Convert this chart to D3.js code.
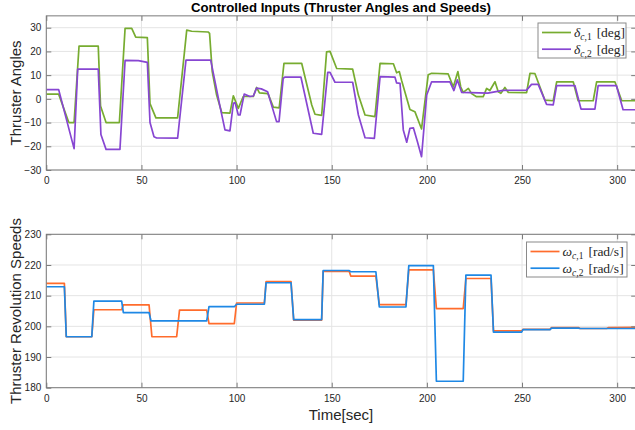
<!DOCTYPE html>
<html>
<head>
<meta charset="utf-8">
<script src="https://cdn.jsdelivr.net/npm/d3@7"></script>
<style>
  body { margin: 0; background: #fff; }
  svg { display: block; }
  text { font-family: "Liberation Sans", Arial, sans-serif; }
</style>
</head>
<body>
<div id="chart"></div>
<script>
// time [s], value
const delta1 = [[0,2],[6.5,2],[11.6,-9.5],[12,-10],[14.6,-10],[17.2,22.2],[27.3,22.2],[28.5,-3],[31.4,-10],[38.4,-10],
  [41.4,29.7],[44.9,29.7],[47,26],[53.1,25.8],[54.5,-2],[57.6,-8],[69,-8],[73.8,29],[76.4,28.5],[85,28.2],[85.8,27.6],
  [87.2,11.5],[89.5,1.6],[92.2,-5.8],[96.5,-6],[98.3,1.3],[100.9,-4],[103.5,1],[108.8,1],[110.5,4.8],[112,2.5],[116.5,2.2],
  [119.3,-3.5],[122.4,-3.8],[124.9,15],[134.2,15],[139.5,-2.6],[141.2,-6.5],[144.7,-7],[147.3,19.8],[149.1,20],[152.6,12.8],
  [161,12.5],[164,1.6],[167.5,-6.8],[172.7,-7.5],[175.4,15],[182.4,14.8],[184.1,11],[185.5,11.5],[186.8,7.5],[191.1,-4.5],
  [193.7,-5.4],[197.2,-12.7],[200.7,10.2],[202.5,10.8],[211.2,10.5],[213.9,5],[216.3,11.5],[217.8,5],[219.1,2.7],[221.8,4.4],
  [223.5,2.2],[226.1,0.9],[229.6,0.9],[231.4,4.4],[233.1,3.5],[235.8,7.2],[237.5,3],[238.9,2.3],[241,4.8],[242.8,2.7],
  [252.4,2.6],[254.2,10.8],[256.8,10.6],[262,-0.5],[266.4,-0.8],[268.2,7.2],[276.9,7.2],[279.5,-0.8],[287.4,-0.8],
  [289.2,7.2],[298.8,7.2],[302.4,-0.8],[310,-0.8]];
const delta2 = [[0,3.9],[6.5,3.9],[14.6,-21],[16.5,12.5],[27.3,12.5],[28.7,-15],[31.4,-21.3],[38.7,-21.3],[41.4,16.2],
  [48.4,16.1],[53.1,15.4],[54.5,-10],[56.6,-16],[58,-16.5],[69,-16.6],[73.4,16.3],[86.4,16.3],[86.9,14.3],[91.3,-3.3],
  [93.9,-13.1],[96.5,-13.5],[98.3,-1.9],[99.2,-1.6],[100.9,-6.8],[101.8,-6.8],[104,2],[107,1],[108.8,1.2],[110.5,4.5],
  [113,4.2],[116.3,3],[121,-9.6],[122.3,-9.6],[124.5,8.7],[125.5,9.2],[133.8,9.2],[140.3,-14.5],[144.7,-15],[147.9,11.2],
  [149.1,11.2],[151.7,7],[161,7],[164,-6.8],[167.5,-16.4],[172.4,-16.7],[175.4,9.4],[183.2,9.2],[184.1,6.7],[185.9,6.5],
  [187.6,-13.1],[189.4,-18.3],[191.1,-12.4],[192.9,-12.2],[195,-18],[197.2,-24.4],[199.9,1.6],[202.5,7.2],[212.1,7.2],
  [214.2,3.5],[216,8],[218.3,2.7],[232,2.4],[240,3.6],[252.4,3.7],[255,6.1],[258.5,6.1],[262.9,-2.3],[266.4,-2.5],
  [268.2,5.6],[277.8,5.6],[281,-4.3],[288.3,-4.3],[290,5.6],[299.6,5.6],[303.1,-4.6],[310,-4.6]];
const omega1 = [[0,214],[9.5,214],[10.5,196.6],[23.9,196.6],[25,205.4],[39.6,205.4],[40.5,207],[54,207],[55.5,196.6],
  [68.5,196.6],[70,205.3],[84.3,205.3],[85.5,200.9],[98.8,200.9],[100,207.6],[114.6,207.6],[115.5,214.6],[128.6,214.6],
  [130,202],[144.7,202],[145.5,217.9],[159.2,217.9],[160,216.4],[173.2,216.4],[175,207.1],[189,207.1],[190.5,218.4],
  [203.4,218.4],[205,205.8],[219.1,205.8],[220.5,215.6],[233.7,215.6],[235,198.5],[249.8,198.5],[250.5,199],[264.7,199],
  [265.5,199.6],[279.6,199.6],[280.5,199.3],[294.5,199.3],[295.5,199.6],[310,199.7]];
const omega2 = [[0,212.9],[9.5,212.9],[10.5,196.6],[23.9,196.6],[25,208.2],[39.6,208.2],[40.5,204.5],[54,204.5],
  [55,201.8],[84.3,201.8],[85.5,206.4],[98.8,206.4],[100,207.2],[114.6,207.2],[115.5,214.2],[128.6,214.2],[130,202.2],
  [144.7,202.2],[145.5,218.2],[159,218.2],[160,217.8],[173.2,217.8],[175,206.3],[189,206.3],[190.5,219.8],[203.4,219.8],
  [205,182.1],[219.1,182.1],[220.5,216.7],[233.7,216.7],[235,198.1],[249.8,198.1],[250.5,198.9],[264.7,198.9],
  [265.5,199.4],[279.6,199.4],[280.5,199.3],[310,199.3]];

const timeTicks = [0, 50, 100, 150, 200, 250, 300];
const angleTicks = [-30, -20, -10, 0, 10, 20, 30];
const speedTicks = [180, 190, 200, 210, 220, 230];

const W = 635, H = 430;
const svg = d3.select("#chart").append("svg").attr("width", W).attr("height", H);

const x = d3.scaleLinear().domain([0, 310]).range([46.3, 636.2]);

const drawPanel = (p) => {
  const y = d3.scaleLinear().domain(p.yDomain).range(p.yRange);
  const [x0, x1] = x.range();
  const [yb, yt] = p.yRange;
  const g = svg.append("g");

  // grid
  g.append("g").selectAll("line").data(timeTicks).join("line")
    .attr("x1", d => x(d)).attr("x2", d => x(d)).attr("y1", yt).attr("y2", yb)
    .attr("stroke", "#e4e4e4");
  g.append("g").selectAll("line").data(p.yTicks).join("line")
    .attr("x1", x0).attr("x2", x1).attr("y1", d => y(d)).attr("y2", d => y(d))
    .attr("stroke", "#e4e4e4");

  g.append("defs").append("clipPath").attr("id", p.id)
    .append("rect").attr("x", x0).attr("y", yt).attr("width", x1 - x0).attr("height", yb - yt);

  const line = d3.line().x(d => x(d[0])).y(d => y(d[1]));
  const area = g.append("g").attr("clip-path", `url(#${p.id})`);
  p.series.forEach(s => {
    area.append("path").datum(s.values)
      .attr("d", line).attr("fill", "none")
      .attr("stroke", s.color).attr("stroke-width", 1.7)
      .attr("stroke-linejoin", "round");
  });

  // axes (inward ticks, box on)
  const styleAxis = (a) => {
    a.select(".domain").remove();
    a.selectAll(".tick line").attr("stroke", "#7a7a7a");
    a.selectAll(".tick text").attr("fill", "#262626").style("font-size", "10px")
      .style("font-family", '"Liberation Sans", Arial, sans-serif');
  };
  g.append("g").attr("transform", `translate(0,${yb})`)
    .call(d3.axisBottom(x).tickValues(timeTicks).tickSizeInner(-5).tickSizeOuter(0).tickPadding(7))
    .call(styleAxis);
  g.append("g").attr("transform", `translate(0,${yt})`)
    .call(d3.axisTop(x).tickValues(timeTicks).tickSizeInner(-5).tickSizeOuter(0).tickFormat(""))
    .call(styleAxis);
  g.append("g").attr("transform", `translate(${x0},0)`)
    .call(d3.axisLeft(y).tickValues(p.yTicks).tickSizeInner(-5).tickSizeOuter(0).tickPadding(5))
    .call(styleAxis);
  g.append("g").attr("transform", `translate(${x1},0)`)
    .call(d3.axisRight(y).tickValues(p.yTicks).tickSizeInner(-5).tickSizeOuter(0).tickFormat(""))
    .call(styleAxis);

  g.append("rect").attr("x", x0).attr("y", yt).attr("width", x1 - x0).attr("height", yb - yt)
    .attr("fill", "none").attr("stroke", "#7a7a7a");

  g.append("text")
    .attr("transform", `translate(21,${(yt + yb) / 2}) rotate(-90)`)
    .attr("text-anchor", "middle").attr("fill", "#262626")
    .style("font-size", "15px").text(p.yLabel);

  // legend
  const L = p.legend;
  const lg = g.append("g");
  lg.append("rect").attr("x", L.x).attr("y", L.y).attr("width", L.w).attr("height", L.h)
    .attr("fill", "#fff").attr("stroke", "#8a8a8a");
  p.series.forEach((s, i) => {
    const ry = L.y + 9.5 + i * 16.7;
    lg.append("line").attr("x1", L.x + 4).attr("x2", L.x + 33).attr("y1", ry).attr("y2", ry)
      .attr("stroke", s.color).attr("stroke-width", 1.7);
    const t = lg.append("text").attr("x", L.x + 36).attr("y", ry + 4.5).attr("fill", "#262626")
      .style("font-family", '"Liberation Serif", "Times New Roman", serif').style("font-size", "13.5px");
    t.append("tspan").style("font-style", "italic").text(s.sym);
    t.append("tspan").attr("dy", 3).style("font-size", "9.5px").style("font-style", "italic").text("c");
    t.append("tspan").style("font-size", "9.5px").text("," + s.idx);
    t.append("tspan").attr("dy", -3).attr("dx", 5).text(s.unit);
  });
};

drawPanel({
  id: "clipTop",
  yDomain: [-30, 35], yRange: [170, 15.85], yTicks: angleTicks,
  yLabel: "Thruster Angles",
  series: [
    { values: delta1, color: "#77AC30", sym: "δ", idx: 1, unit: "[deg]" },
    { values: delta2, color: "#8746D2", sym: "δ", idx: 2, unit: "[deg]" }
  ],
  legend: { x: 538, y: 23, w: 88, h: 35 }
});

drawPanel({
  id: "clipBottom",
  yDomain: [180, 230], yRange: [387.7, 234.3], yTicks: speedTicks,
  yLabel: "Thruster Revolution Speeds",
  series: [
    { values: omega1, color: "#FF6C2C", sym: "ω", idx: 1, unit: "[rad/s]" },
    { values: omega2, color: "#1E88E5", sym: "ω", idx: 2, unit: "[rad/s]" }
  ],
  legend: { x: 526.5, y: 242, w: 100.5, h: 35 }
});

svg.append("text").attr("x", 341).attr("y", 12).attr("text-anchor", "middle")
  .attr("fill", "#000").style("font-size", "13.2px").style("font-weight", "bold")
  .text("Controlled Inputs (Thruster Angles and Speeds)");

svg.append("text").attr("x", 341).attr("y", 420).attr("text-anchor", "middle")
  .attr("fill", "#262626").style("font-size", "15px").text("Time[sec]");
</script>
</body>
</html>
